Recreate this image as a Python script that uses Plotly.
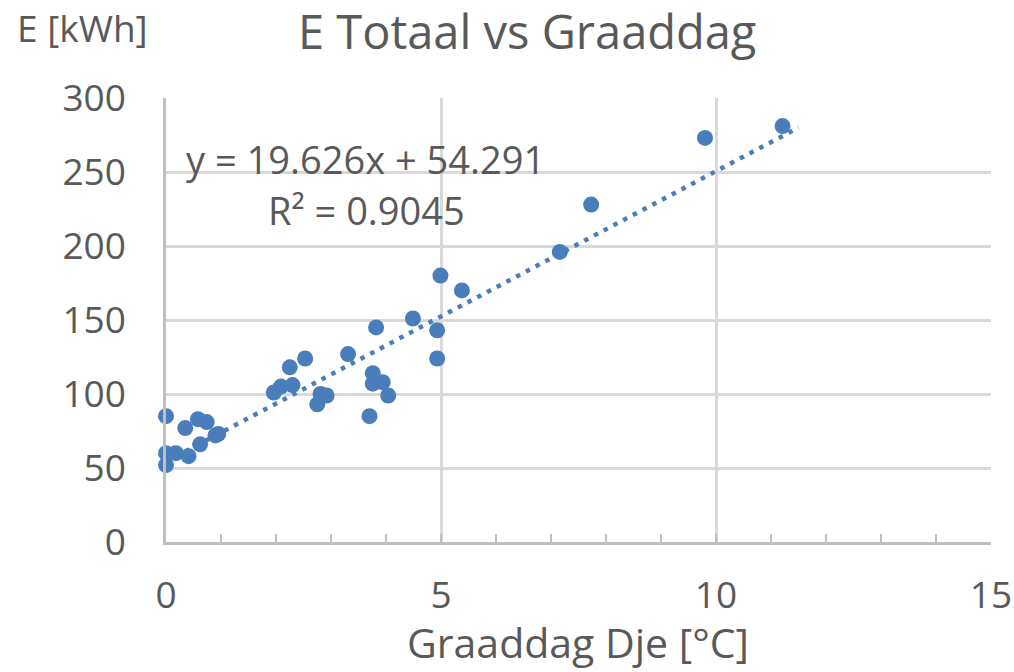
import plotly.graph_objects as go

# Data
graaddag = [0, 0, 0, 0.18, 0.35, 0.41, 0.58, 0.62, 0.74, 0.90, 0.95,
            1.96, 2.09, 2.25, 2.30, 2.53, 2.75, 2.81, 2.92, 3.31, 3.70,
            3.76, 3.76, 3.82, 3.94, 4.04, 4.49, 4.93, 4.93, 4.99, 5.38,
            7.16, 7.73, 9.80, 11.21]
energie = [85, 60, 52, 60, 77, 58, 83, 66, 81, 72, 73,
           101, 105, 118, 106, 124, 93, 100, 99, 127, 85,
           114, 107, 145, 108, 99, 151, 143, 124, 180, 170,
           196, 228, 273, 281]

# Trendline as shown in the chart
slope = 19.626
intercept = 54.291
trend_x = [0, 11.5]
trend_y = [slope * v + intercept for v in trend_x]

x_ticks = [0, 5, 10, 15]
y_ticks = [0, 50, 100, 150, 200, 250, 300]

text_color = "#595959"
grid_color = "#D9D9D9"
axis_color = "#BFBFBF"
blue = "#4A7EBB"
font = "Open Sans"

fig = go.Figure()
fig.add_trace(go.Scatter(
    x=graaddag, y=energie, mode="markers",
    marker=dict(color=blue, size=16, line=dict(width=0)),
    showlegend=False, cliponaxis=False))
fig.add_trace(go.Scatter(
    x=trend_x, y=trend_y, mode="lines",
    line=dict(color=blue, width=4.5, dash="4.5px,6.5px"),
    showlegend=False))

fig.update_layout(
    width=1014, height=672,
    margin=dict(l=166, r=23, t=98, b=130),
    paper_bgcolor="white", plot_bgcolor="white",
    font=dict(family=font, color=text_color, size=37),
    xaxis=dict(range=[0, 15], tickvals=x_ticks, ticktext=[str(v) for v in x_ticks],
               showgrid=True, gridcolor=grid_color, gridwidth=2.5,
               zeroline=False, showline=True, linecolor=axis_color, linewidth=2.5,
               ticks="inside", ticklen=8, tickwidth=2, tickcolor=axis_color,
               minor=dict(dtick=1, ticks="inside", ticklen=8, tickwidth=2,
                          tickcolor=axis_color, showgrid=False),
               tickfont=dict(size=37, color=text_color, family=font),
               ticklabelstandoff=19, automargin=False, fixedrange=True),
    yaxis=dict(range=[0, 300], tickvals=y_ticks, ticktext=[str(v) for v in y_ticks],
               showgrid=True, gridcolor=grid_color, gridwidth=2.5,
               zeroline=False, showline=True, linecolor=axis_color, linewidth=2.5,
               ticks="", tickfont=dict(size=37, color=text_color, family=font),
               ticklabelstandoff=30, automargin=False, fixedrange=True),
    annotations=[
        dict(text="E Totaal vs Graaddag", xref="paper", yref="paper",
             x=(527 - 166) / 825, y=(541.5 - 31) / 444, xanchor="center", yanchor="middle",
             showarrow=False, font=dict(size=47, color=text_color, family=font)),
        dict(text="E [kWh]", xref="paper", yref="paper",
             x=(82 - 166) / 825, y=(541.5 - 27) / 444, xanchor="center", yanchor="middle",
             showarrow=False, font=dict(size=37, color=text_color, family=font)),
        dict(text="Graaddag Dje [°C]", xref="paper", yref="paper",
             x=(578 - 166) / 825, y=(541.5 - 641) / 444, xanchor="center", yanchor="middle",
             showarrow=False, font=dict(size=41, color=text_color, family=font)),
        dict(text="y = 19.626x + 54.291", xref="paper", yref="paper",
             x=(365 - 166) / 825, y=(541.5 - 158) / 444, xanchor="center", yanchor="middle",
             showarrow=False, font=dict(size=38, color=text_color, family=font)),
        dict(text="R² = 0.9045", xref="paper", yref="paper",
             x=(366 - 166) / 825, y=(541.5 - 209) / 444, xanchor="center", yanchor="middle",
             showarrow=False, font=dict(size=38, color=text_color, family=font)),
    ],
)

fig.write_html(
    "out.html",
    config={"displayModeBar": False},
    post_script="document.body.style.margin='0';document.body.style.overflow='hidden';",
)
